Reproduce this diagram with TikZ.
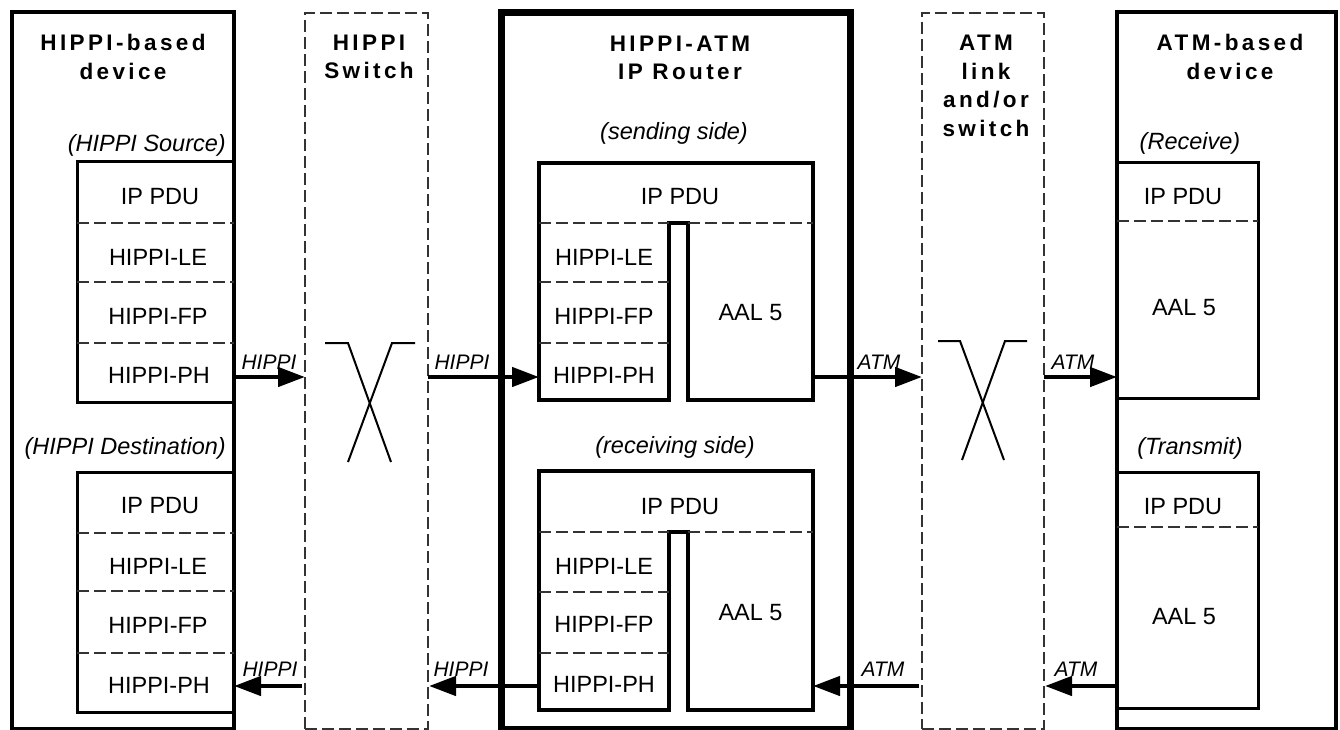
\documentclass[tikz,border=0pt]{standalone}
\usepackage{fontspec}
\setmainfont{Liberation Sans}
\newfontfamily\ttlfam[LetterSpace=15]{Liberation Sans}
\usetikzlibrary{arrows.meta}
\begin{document}
\begin{tikzpicture}[x=1pt,y=-1pt,
  outerbox/.style={draw, line width=4pt, inner sep=0pt, outer sep=0pt, anchor=north west},
  routerbox/.style={draw, line width=7pt, inner sep=0pt, outer sep=0pt, anchor=north west},
  stackbox/.style={draw, line width=3pt, inner sep=0pt, outer sep=0pt, anchor=north west},
  dbox/.style={draw=black!80, line width=2.2pt, dash pattern=on 12pt off 5pt, inner sep=0pt, outer sep=0pt, anchor=north west},
  divline/.style={draw=black!80, line width=2.2pt, dash pattern=on 12pt off 5pt},
  blkline/.style={line width=4.5pt, line join=miter},
  cell/.style={inner sep=0pt, outer sep=0pt, font=\fontsize{23.5}{28}\selectfont},
  ital/.style={inner sep=0pt, font=\fontsize{23.5}{28}\selectfont\itshape},
  ttlnode/.style={inner sep=0pt, align=center, font=\ttlfam\bfseries\fontsize{22.5}{28.5}\selectfont},
  lbl/.style={inner sep=0pt, anchor=base, font=\fontsize{21}{24}\selectfont\itshape},
  arr/.style={line width=4.5pt, -{Triangle[length=27pt,width=19pt]}},
  xsym/.style={line width=2pt}
]
\useasboundingbox (0,0) rectangle (1340,730);

% ---------- outer columns ----------
\node[outerbox, minimum width=222, minimum height=716] (devL) at (12,12.5) {};
\node[dbox, minimum width=123, minimum height=716] (swH) at (305,13) {};
\node[routerbox, minimum width=349, minimum height=716] (rtr) at (501,13) {};
\node[dbox, minimum width=122, minimum height=716] (swA) at (922,13) {};
\node[outerbox, minimum width=219, minimum height=716] (devR) at (1117,12.5) {};

% ---------- titles ----------
\node[ttlnode] (tL) at (123,57) {HIPPI-based\\device};
\node[ttlnode] (tS) at (369,57) {HIPPI\\Switch};
\node[ttlnode] (tR) at (680,58) {HIPPI-ATM\\IP Router};
\node[ttlnode] (tA) at (986,86) {ATM\\link\\and/or\\switch};
\node[ttlnode] (tD) at (1230,57) {ATM-based\\device};

% ---------- HIPPI-based device ----------
\node[ital, anchor=east] (srcT) at (226,145) {(HIPPI Source)};
\node[stackbox, minimum width=157, minimum height=240] (src) at (77,162) {};
\draw[divline] (77,223) -- (234,223);
\draw[divline] (77,282) -- (234,282);
\draw[divline] (77,343) -- (234,343);
\node[cell] (srcIP) at (160,197) {IP PDU};
\node[cell] (srcLE) at (158,257) {HIPPI-LE};
\node[cell] (srcFP) at (158,316) {HIPPI-FP};
\node[cell] (srcPH) at (159,375) {HIPPI-PH};

\node[ital, anchor=east] (dstT) at (226,448) {(HIPPI Destination)};
\node[stackbox, minimum width=157, minimum height=240] (dst) at (77,472) {};
\draw[divline] (77,533) -- (234,533);
\draw[divline] (77,591) -- (234,591);
\draw[divline] (77,653) -- (234,653);
\node[cell] (dstIP) at (160,506) {IP PDU};
\node[cell] (dstLE) at (158,566) {HIPPI-LE};
\node[cell] (dstFP) at (158,625) {HIPPI-FP};
\node[cell] (dstPH) at (159,685) {HIPPI-PH};

% ---------- switches ----------
\draw[xsym] (325,343) -- (348,343) -- (391,462);
\draw[xsym] (415,343) -- (392,343) -- (348,462);
\draw[xsym] (938,341) -- (960,341) -- (1004,460);
\draw[xsym] (1027,341) -- (1005,341) -- (962,460);

% ---------- router: sending side ----------
\node[ital] (sndT) at (674,133) {(sending side)};
\draw[blkline] (539,163) -- (813,163) -- (813,400) -- (688,400) -- (688,223) -- (669,223) -- (669,400) -- (539,400) -- cycle;
\draw[divline] (539,223) -- (669,223);
\draw[divline] (688,223) -- (813,223);
\draw[divline] (539,282) -- (669,282);
\draw[divline] (539,343) -- (669,343);
\node[cell] (sIP) at (680,197) {IP PDU};
\node[cell, minimum width=130] (sLE) at (604,257) {HIPPI-LE};
\node[cell, minimum width=130] (sFP) at (604,316) {HIPPI-FP};
\node[cell, minimum width=130] (sPH) at (604,375) {HIPPI-PH};
\node[cell, minimum width=125] (sAAL) at (750.5,313) {AAL 5};

% ---------- router: receiving side ----------
\node[ital] (rcvT) at (675,447) {(receiving side)};
\draw[blkline] (539,471) -- (813,471) -- (813,710) -- (688,710) -- (688,532) -- (669,532) -- (669,710) -- (539,710) -- cycle;
\draw[divline] (539,532) -- (669,532);
\draw[divline] (688,532) -- (813,532);
\draw[divline] (539,592) -- (669,592);
\draw[divline] (539,653) -- (669,653);
\node[cell] (rIP) at (680,507) {IP PDU};
\node[cell, minimum width=130] (rLE) at (604,566) {HIPPI-LE};
\node[cell, minimum width=130] (rFP) at (604,624) {HIPPI-FP};
\node[cell, minimum width=130] (rPH) at (604,684) {HIPPI-PH};
\node[cell, minimum width=125] (rAAL) at (750.5,613) {AAL 5};

% ---------- ATM-based device ----------
\node[ital] (rcT) at (1190,143) {(Receive)};
\node[stackbox, minimum width=141, minimum height=235] (rcv) at (1117,163) {};
\draw[divline] (1117,221) -- (1258,221);
\node[cell] (rcvIP) at (1183,197) {IP PDU};
\node[cell] (rcvAAL) at (1184,308) {AAL 5};

\node[ital] (xmT) at (1190,448) {(Transmit)};
\node[stackbox, minimum width=141, minimum height=236] (xmt) at (1117,472) {};
\draw[divline] (1117,527) -- (1258,527);
\node[cell] (xmtIP) at (1183,507) {IP PDU};
\node[cell] (xmtAAL) at (1184,617) {AAL 5};

% ---------- connectors ----------
\coordinate (rowA) at (0,377);
\coordinate (rowB) at (0,686);
\draw[arr] (src.east |- rowA) -- (swH.west |- rowA);
\draw[arr] (swH.east |- rowA) -- (sPH.west |- rowA);
\draw[arr] (sAAL.east |- rowA) -- (swA.west |- rowA);
\draw[arr] (swA.east |- rowA) -- (rcv.west |- rowA);

\draw[arr] ([xshift=-3pt]swH.west |- rowB) -- (dst.east |- rowB);
\draw[arr] (rPH.west |- rowB) -- ([xshift=1pt]swH.east |- rowB);
\draw[arr] ([xshift=-3pt]swA.west |- rowB) -- (rAAL.east |- rowB);
\draw[arr] (xmt.west |- rowB) -- ([xshift=1pt]swA.east |- rowB);

% ---------- connector labels ----------
\node[lbl] (lA1) at (269,369) {HIPPI};
\node[lbl] (lA2) at (462,369) {HIPPI};
\node[lbl] (lA3) at (879,369) {ATM};
\node[lbl] (lA4) at (1073,369) {ATM};
\node[lbl] (lB1) at (270,676) {HIPPI};
\node[lbl] (lB2) at (461,676) {HIPPI};
\node[lbl] (lB3) at (883,676) {ATM};
\node[lbl] (lB4) at (1076,676) {ATM};
\end{tikzpicture}
\end{document}
